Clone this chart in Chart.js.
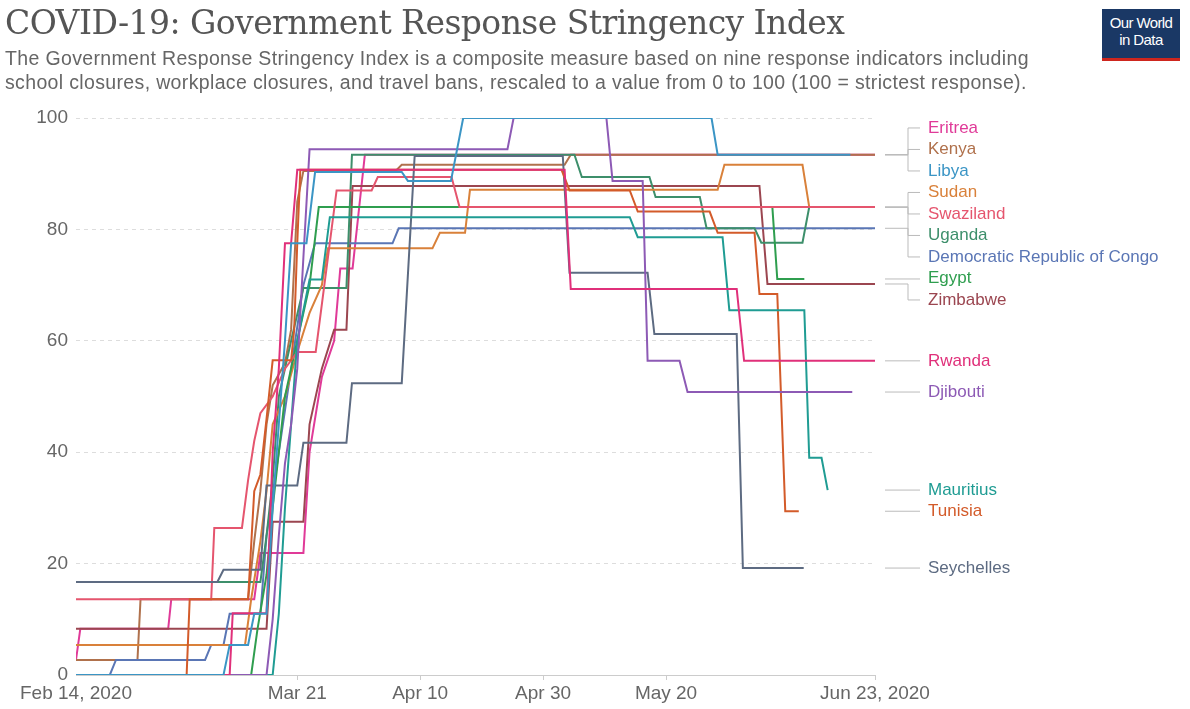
<!DOCTYPE html>
<html>
<head>
<meta charset="utf-8">
<script src="https://cdn.jsdelivr.net/npm/chart.js@4"></script>
<style>
  body { margin: 0; background: #fff; }
  #wrap { position: relative; width: 1190px; height: 709px; overflow: hidden; }
  #chart { position: absolute; left: 0; top: 0; }
  h1 { position: absolute; left: 5px; top: 3px; margin: 0; font: 400 33px "DejaVu Serif", Georgia, serif; color: #555; letter-spacing: -0.55px; white-space: nowrap; }
  .sub { position: absolute; left: 5px; top: 46px; margin: 0; font: 19.5px "Liberation Sans", Arial, sans-serif; line-height: 24px; color: #666; letter-spacing: 0.35px; white-space: nowrap; }
  #logo { position: absolute; left: 1102px; top: 9px; width: 78px; height: 44px; background: #1a3865; border-bottom: 3px solid #ce261e; color: #fff; font: 15px "Liberation Sans", Arial, sans-serif; line-height: 17px; text-align: center; padding-top: 5px; box-sizing: content-box; letter-spacing: -0.6px; }
</style>
</head>
<body>
<div id="wrap">
  <canvas id="chart" width="1190" height="709"></canvas>
  <h1>COVID-19: Government Response Stringency Index</h1>
  <p class="sub">The Government Response Stringency Index is a composite measure based on nine response indicators including<br>school closures, workplace closures, and travel bans, rescaled to a value from 0 to 100 (100 = strictest response).</p>
  <div id="logo">Our World<br>in Data</div>
</div>
<script>
// days counted from Feb 14, 2020
const tickDays = [0, 36, 56, 76, 96, 130];
const tickLabels = ['Feb 14, 2020', 'Mar 21', 'Apr 10', 'Apr 30', 'May 20', 'Jun 23, 2020'];

// [day, index value]
const eritrea = [[0,2.7],[0.7,8.3],[15,8.3],[15.5,13.6],[29,13.6],[30,21.9],[37,21.9],[38,40],[40,53.5],[42,60],[43,73],[45,73],[47,93.4],[130,93.4]];
const kenya = [[0,2.7],[10,2.7],[10.5,13.6],[28,13.6],[29,24],[30,33],[31,45],[32,52],[34,56],[35,62],[36,85],[37,90.5],[52,90.5],[53,91.6],[79.5,91.6],[80.5,93.4],[130,93.4]];
const libya = [[0,0],[24,0],[25,5.4],[28,5.4],[29,11],[31,11],[32,30],[33,45],[34,60],[35,77.5],[37.5,77.5],[38.9,90.3],[53,90.3],[54,88.7],[61,88.7],[63,100],[103.4,100],[104.4,93.4],[126,93.4]];
const sudan = [[0,5.4],[27.5,5.4],[28.5,13.6],[30,24],[31,33],[32,45],[34,50],[36,58],[38,65],[40,70],[41,76.6],[58,76.6],[59.2,79.4],[63.3,79.4],[64.1,87.1],[104.4,87.1],[105.5,91.6],[118.2,91.6],[119.3,84],[130,84]];
const swaziland = [[0,13.6],[22,13.6],[22.5,26.4],[27,26.4],[28,35],[29,42],[30,47],[32,50],[34,55],[36,58],[39,58],[42.4,87],[48.1,87],[49.1,89.4],[61.1,89.4],[62.4,84],[130,84]];
const uganda = [[0,16.7],[30,16.7],[31,25],[32,35],[33,50],[35,60],[37,69.5],[44,69.5],[44.9,93.4],[81.1,93.4],[82.3,89.4],[93.3,89.4],[94.3,85.8],[101.5,85.8],[102.6,80.2],[110.4,80.2],[111.5,77.6],[118.2,77.6],[119.3,84],[130,84]];
const drc = [[0,0],[5.5,0],[6.5,2.7],[21,2.7],[22,5.4],[24,5.4],[25,11],[30,11],[31,25],[33,40],[35,55],[37,70],[38.9,77.5],[51.5,77.5],[52.5,80.2],[130,80.2]];
const egypt = [[0,0],[28.5,0],[29.5,8],[31,18],[32,30],[33,40],[34,50],[36,60],[38,70],[39.5,84],[113.3,84],[114.1,71.1],[118.5,71.1]];
const zimbabwe = [[0,8.3],[31,8.3],[32,27.5],[37,27.5],[38,45],[40,55],[42,62],[44,62],[45,87.8],[111.2,87.8],[112.5,70.2],[130,70.2]];
const rwanda = [[0,0],[25,0],[25.5,11.1],[31,11.1],[32,40],[33,55],[34,77.5],[35,77.5],[36,90.7],[79.5,90.7],[80.5,69.3],[107.5,69.3],[108.7,56.4],[130,56.4]];
const djibouti = [[0,0],[31,0],[32,10],[33,25],[34,38],[35,45],[36,55],[37,75],[38,94.4],[70.2,94.4],[71.2,100],[86.3,100],[87.3,88.7],[92.2,88.7],[93,56.4],[98.2,56.4],[99.5,50.8],[126.3,50.8]];
const mauritius = [[0,0],[32,0],[33,11],[34,30],[35,45],[36,60],[38,71],[40,71],[41.3,82.2],[90.1,82.2],[91.4,78.6],[105.2,78.6],[106.3,65.5],[118.5,65.5],[119.3,39],[121.3,39],[122.3,33.2]];
const tunisia = [[0,0],[18,0],[18.5,13.6],[28,13.6],[29,33],[30,36],[31,46],[32,56.5],[35,56.5],[35.5,62],[36,77.5],[36.5,90.7],[79,90.7],[80.3,87],[90.1,87],[91.4,83.2],[103.1,83.2],[104.4,79.4],[110.4,79.4],[111.2,68.4],[114.1,68.4],[115.4,29.4],[117.6,29.4]];
const seychelles = [[0,16.7],[23,16.7],[24,18.9],[30,18.9],[31,34],[36,34],[37,41.7],[44,41.7],[44.9,52.4],[53,52.4],[55.1,93.2],[79.2,93.2],[80.3,72.2],[93,72.2],[94.1,61.2],[107.5,61.2],[108.5,19.2],[118.4,19.2]];

const countries = ['Eritrea', 'Kenya', 'Libya', 'Sudan', 'Swaziland', 'Uganda', 'Democratic Republic of Congo',
  'Egypt', 'Zimbabwe', 'Rwanda', 'Djibouti', 'Mauritius', 'Tunisia', 'Seychelles'];
const series = [eritrea, kenya, libya, sudan, swaziland, uganda, drc, egypt, zimbabwe, rwanda, djibouti, mauritius, tunisia, seychelles];
const colors = ['#e03a98', '#b0714c', '#3b95c5', '#d9813a', '#e5556e', '#3d8f6b', '#5a76b5',
  '#2f9e4f', '#9b4650', '#e0307a', '#8d5ab5', '#1f9c93', '#d35b2a', '#5d6b82'];
// Libya drawn over Kenya/Eritrea
const drawOrder = [5, 4, 0, 3, 2, 3, 3, 2, 3, 1, 1, 1, 1, 1];

const FONT = '"Liberation Sans", Arial, sans-serif';

// end labels with connector lines, spread so they do not overlap
const endLabels = {
  id: 'endLabels',
  afterDatasetsDraw(chart) {
    const ctx = chart.ctx;
    const y = chart.scales.y;
    const area = chart.chartArea;
    const gap = 21.5;
    const items = countries.map((name, i) => {
      const last = series[i][series[i].length - 1];
      return { name, color: colors[i], target: y.getPixelForValue(last[1]) };
    });
    items.sort((a, b) => a.target - b.target);
    // merge overlapping clusters, centre each one on its targets
    let clusters = items.map(it => ({ list: [it] }));
    const place = c => {
      const t = c.list.map(it => it.target);
      const mean = t.reduce((s, v) => s + v, 0) / t.length;
      const mid = (Math.min(...t) + Math.max(...t)) / 2;
      c.top = (mean + mid) / 2 - (t.length - 1) * gap / 2;
      c.bottom = c.top + (t.length - 1) * gap;
    };
    clusters.forEach(place);
    let merged = true;
    while (merged) {
      merged = false;
      for (let i = 0; i < clusters.length - 1; i++) {
        if (clusters[i + 1].top - clusters[i].bottom < gap + 6) {
          clusters[i].list = clusters[i].list.concat(clusters[i + 1].list);
          clusters.splice(i + 1, 1);
          place(clusters[i]);
          merged = true;
          break;
        }
      }
    }
    clusters.forEach(c => c.list.forEach((it, k) => { it.ly = c.top + k * gap; }));

    const x0 = area.right + 10, xb = area.right + 33, x1 = area.right + 45, tx = area.right + 53;
    ctx.save();
    ctx.strokeStyle = '#bbb';
    ctx.lineWidth = 1;
    items.forEach(it => {
      ctx.beginPath();
      ctx.moveTo(x0, it.target);
      if (Math.abs(it.ly - it.target) < 1) {
        ctx.lineTo(x1, it.target);
      } else {
        ctx.lineTo(xb, it.target);
        ctx.lineTo(xb, it.ly);
        ctx.lineTo(x1, it.ly);
      }
      ctx.stroke();
    });
    ctx.font = '17px ' + FONT;
    ctx.textBaseline = 'middle';
    items.forEach(it => {
      ctx.fillStyle = it.color;
      ctx.fillText(it.name, tx, it.ly);
    });
    ctx.restore();
  }
};

new Chart(document.getElementById('chart'), {
  type: 'line',
  data: {
    datasets: countries.map((name, i) => ({
      label: name,
      data: series[i].map(p => ({ x: p[0], y: p[1] })),
      borderColor: colors[i],
      borderWidth: 2,
      pointRadius: 0,
      tension: 0,
      fill: false,
      order: drawOrder[i]
    }))
  },
  options: {
    responsive: false,
    animation: false,
    devicePixelRatio: 1,
    layout: { padding: { top: 118, right: 315, bottom: 0, left: 0 } },
    plugins: { legend: { display: false }, tooltip: { enabled: false } },
    scales: {
      x: {
        type: 'linear',
        min: 0,
        max: 130,
        afterBuildTicks: scale => { scale.ticks = tickDays.map(v => ({ value: v })); },
        afterFit: scale => { scale.height = 34; },
        ticks: {
          autoSkip: false,
          maxRotation: 0,
          padding: 2,
          color: '#666',
          font: { family: FONT, size: 19 },
          callback: v => tickLabels[tickDays.indexOf(v)]
        },
        grid: {
          drawOnChartArea: false,
          drawTicks: true,
          tickLength: 5,
          color: ctx => ctx.index === 0 ? 'rgba(0,0,0,0)' : '#ccc'
        },
        border: { display: true, color: '#ccc' }
      },
      y: {
        min: 0,
        max: 100,
        afterFit: scale => { scale.width = 76; },
        ticks: {
          stepSize: 20,
          padding: 8,
          color: '#666',
          font: { family: FONT, size: 19 }
        },
        grid: { color: ctx => ctx.tick.value === 0 ? 'rgba(0,0,0,0)' : '#ddd', drawTicks: false, lineWidth: 1 },
        border: { display: false, dash: [4, 4] }
      }
    }
  },
  plugins: [endLabels]
});
</script>
</body>
</html>
